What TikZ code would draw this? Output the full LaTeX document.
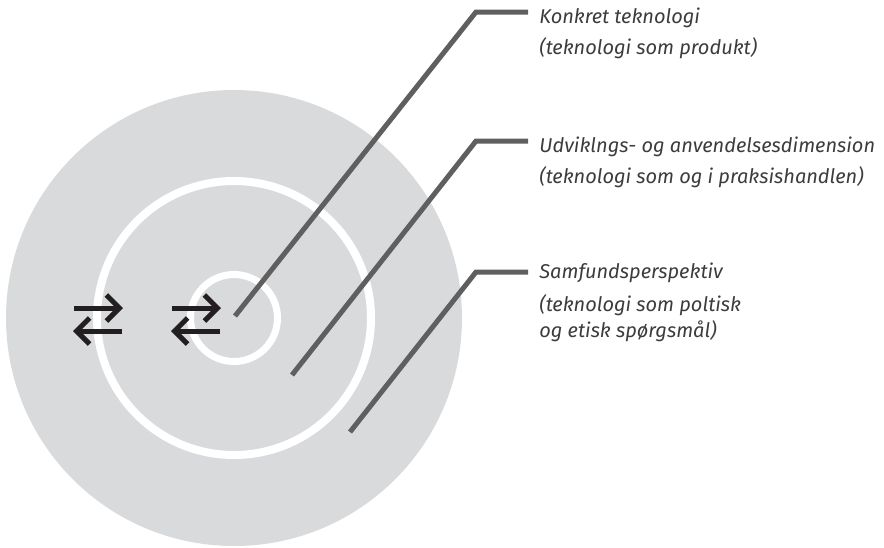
\documentclass[tikz,border=0pt]{standalone}
\usepackage{fontspec}
\setmainfont{Fira Sans}
\usepackage{tikz}
\usetikzlibrary{calc,arrows.meta}
\definecolor{discgray}{HTML}{D9DADC}
\definecolor{leadgray}{HTML}{5F5F5F}
\definecolor{labelgray}{HTML}{3C3C3C}
\definecolor{swapblack}{HTML}{231F20}

\begin{document}
\begin{tikzpicture}[x=0.5pt,y=-0.5pt,
		every node/.style={inner sep=0pt, anchor=base west, text=labelgray, font=\fontsize{10}{12}\selectfont\itshape},
		lead/.style={draw=leadgray, line width=2.5pt},
		swap/.style={draw=swapblack, line width=2.5pt, -{Straight Barb[length=6.5pt,width=13pt]}}]
				\useasboundingbox (0,0) rectangle (884,547);
				%gray disc with the two white rings
				\fill[discgray] (234,318) circle[radius=114pt];
				\draw[white, line width=4pt] (234,318) circle[radius=68.5pt];
				\draw[white, line width=3.5pt] (234,318) circle[radius=21.75pt];
				%%swap arrows drawn with a loop
				\foreach \x in {0, 98}{
					\draw[swap] (74+\x, 308)--(123+\x, 308);
					\draw[swap] (122+\x, 331)--(73+\x, 331);
					}
				%labels placed by hand
				\node (kt) at (539, 23){Konkret teknologi};
				\node (ktd) at (539, 54){(teknologi som produkt)};
				\node (ud) at (539, 152){Udviklngs- og anvendelsesdimension};
				\node (udd) at (539, 183){(teknologi som og i praksishandlen)};
				\node (sp) at (539, 278){Samfundsperspektiv};
				\node (spd) at (539, 311){(teknologi som poltisk};
				\node (spe) at (539, 337){og etisk spørgsmål)};
				%% leader lines: point in ring, bend, end of bar
				\coordinate (p1) at (235, 316);
				\coordinate (b1) at (476, 12);
				\coordinate (e1) at (528, 12);
				\coordinate (p2) at (292, 375);
				\coordinate (b2) at (476, 141);
				\coordinate (e2) at (528, 141);
				\coordinate (p3) at (350, 432);
				\coordinate (b3) at (476, 272);
				\coordinate (e3) at (528, 272);
				\draw [lead](p1)--(b1)--(e1);
				\draw [lead](p2)--(b2)--(e2);
				\draw [lead](p3)--(b3)--(e3);
\end{tikzpicture}
\end{document}
